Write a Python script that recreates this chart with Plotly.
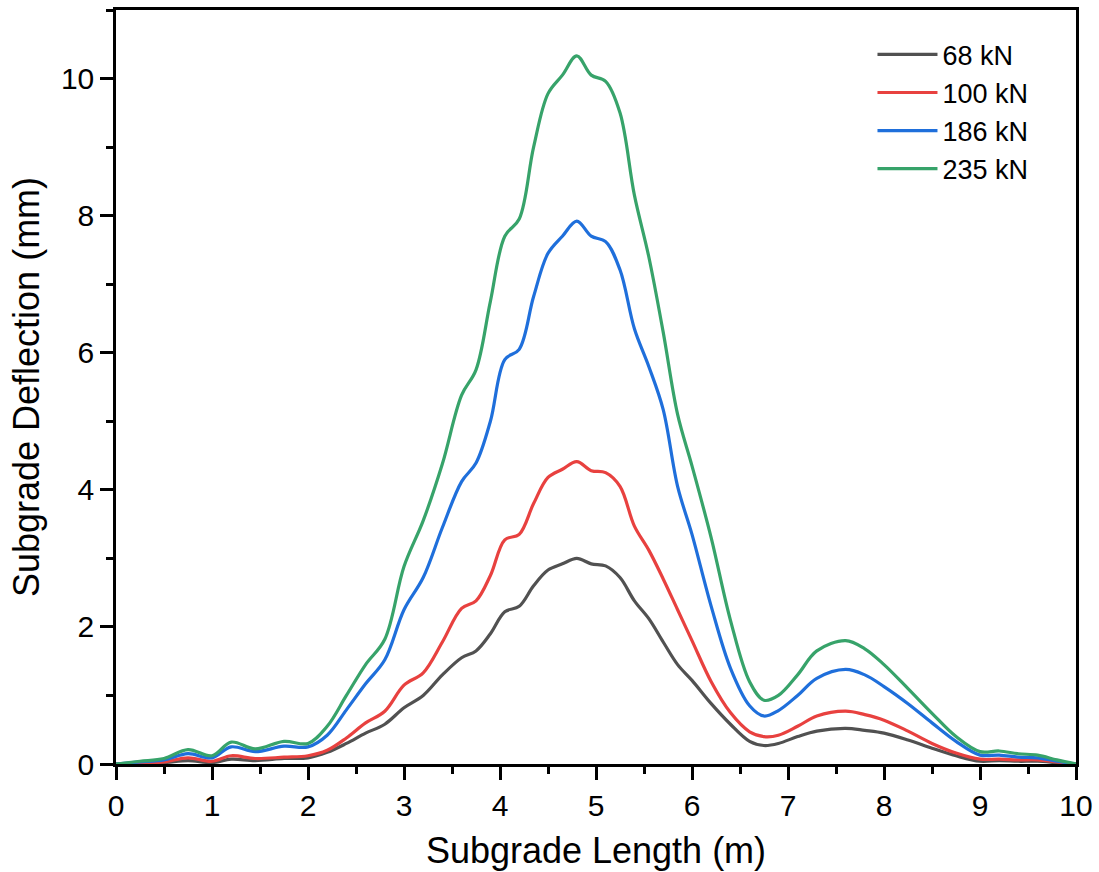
import plotly.graph_objects as go

x_len = [0, 0.25, 0.5, 0.75, 1.0, 1.2, 1.45, 1.75, 2.0, 2.2, 2.4, 2.6, 2.8, 3.0, 3.2, 3.4,
         3.6, 3.75, 3.9, 4.05, 4.2, 4.35, 4.5, 4.65, 4.8, 4.95, 5.1, 5.25, 5.4, 5.55, 5.7,
         5.85, 6.0, 6.2, 6.4, 6.6, 6.75, 6.9, 7.1, 7.3, 7.6, 7.8, 8.0, 8.25, 8.5, 8.75,
         9.0, 9.2, 9.4, 9.6, 9.8, 10.0]

d_68 = [0, 0.01, 0.02, 0.05, 0.02, 0.07, 0.05, 0.08, 0.09, 0.17, 0.30, 0.45, 0.58, 0.82, 1.0, 1.3,
        1.55, 1.65, 1.9, 2.22, 2.3, 2.6, 2.83, 2.92, 3.0, 2.92, 2.89, 2.72, 2.38, 2.12, 1.78,
        1.45, 1.22, 0.88, 0.58, 0.33, 0.27, 0.30, 0.40, 0.48, 0.52, 0.49, 0.45, 0.35, 0.23, 0.12,
        0.04, 0.05, 0.04, 0.04, 0.02, 0]

d_100 = [0, 0.01, 0.03, 0.09, 0.04, 0.12, 0.08, 0.10, 0.12, 0.20, 0.38, 0.60, 0.77, 1.15, 1.33, 1.78,
         2.27, 2.38, 2.75, 3.27, 3.35, 3.8, 4.18, 4.3, 4.41, 4.28, 4.25, 4.05, 3.47, 3.12, 2.7,
         2.25, 1.8, 1.2, 0.75, 0.47, 0.40, 0.42, 0.55, 0.70, 0.77, 0.72, 0.64, 0.48, 0.30, 0.16,
         0.07, 0.07, 0.06, 0.06, 0.03, 0]

d_186 = [0, 0.03, 0.06, 0.15, 0.09, 0.25, 0.18, 0.26, 0.25, 0.42, 0.79, 1.17, 1.52, 2.25, 2.72, 3.45,
         4.12, 4.39, 5.0, 5.9, 6.05, 6.82, 7.45, 7.7, 7.92, 7.7, 7.62, 7.21, 6.35, 5.8, 5.17,
         4.05, 3.35, 2.3, 1.4, 0.85, 0.70, 0.78, 1.0, 1.25, 1.38, 1.3, 1.13, 0.88, 0.60, 0.33,
         0.13, 0.13, 0.10, 0.09, 0.04, 0]

d_235 = [0, 0.04, 0.08, 0.21, 0.12, 0.32, 0.22, 0.33, 0.30, 0.55, 1.0, 1.45, 1.82, 2.88, 3.55, 4.38,
         5.38, 5.75, 6.75, 7.7, 7.95, 9.0, 9.78, 10.05, 10.33, 10.05, 9.96, 9.5, 8.3, 7.4, 6.3,
         5.1, 4.35, 3.3, 2.1, 1.2, 0.93, 1.0, 1.3, 1.65, 1.8, 1.68, 1.45, 1.1, 0.74, 0.40,
         0.18, 0.19, 0.15, 0.13, 0.06, 0]

series_names = ["68 kN", "100 kN", "186 kN", "235 kN"]
series_values = [d_68, d_100, d_186, d_235]
series_colors = ["#515151", "#E8413F", "#1F6FDB", "#37A36A"]

FONT = "Liberation Sans, Arial, sans-serif"

fig = go.Figure()
for name, vals, col in zip(series_names, series_values, series_colors):
    fig.add_trace(go.Scatter(
        x=x_len, y=vals, name=name, mode="lines",
        line=dict(color=col, width=3.2, shape="spline", smoothing=1.0),
    ))

fig.update_xaxes(
    range=[0, 10], tickmode="linear", tick0=0, dtick=1,
    showgrid=False, zeroline=False, showline=True, linecolor="black", linewidth=2.5,
    mirror=True, ticks="outside", ticklen=13, tickwidth=2.5, tickcolor="black",
    tickfont_family=FONT, tickfont_size=30, tickfont_color="black",
    ticklabeloverflow="allow",
    minor=dict(ticks="outside", ticklen=7, tickwidth=2.5, tickcolor="black", dtick=0.5),
    title=dict(text="Subgrade Length (m)", font=dict(family=FONT, size=36, color="black"), standoff=18),
)
fig.update_yaxes(
    range=[0, 11], tickmode="linear", tick0=0, dtick=2,
    showgrid=False, zeroline=False, showline=True, linecolor="black", linewidth=2.5,
    mirror=True, ticks="outside", ticklen=13, tickwidth=2.5, tickcolor="black",
    tickfont_family=FONT, tickfont_size=30, tickfont_color="black",
    ticklabeloverflow="allow",
    minor=dict(ticks="outside", ticklen=7, tickwidth=2.5, tickcolor="black", dtick=1),
    title=dict(text="Subgrade Deflection (mm)", font=dict(family=FONT, size=36, color="black"), standoff=11),
)

fig.update_layout(
    width=1099, height=872,
    margin=dict(l=116, r=23, t=10, b=108, autoexpand=False),
    plot_bgcolor="white", paper_bgcolor="white",
    font=dict(family=FONT, color="black"),
    legend=dict(
        x=0.788, y=0.973, xanchor="left", yanchor="top",
        font=dict(family=FONT, size=27, color="black"),
        bgcolor="rgba(0,0,0,0)", tracegroupgap=0, itemwidth=60,
    ),
)

fig.write_html(
    "out.html",
    config={"displayModeBar": False},
    post_script="document.body.style.margin='0';document.body.style.overflow='hidden';",
)
